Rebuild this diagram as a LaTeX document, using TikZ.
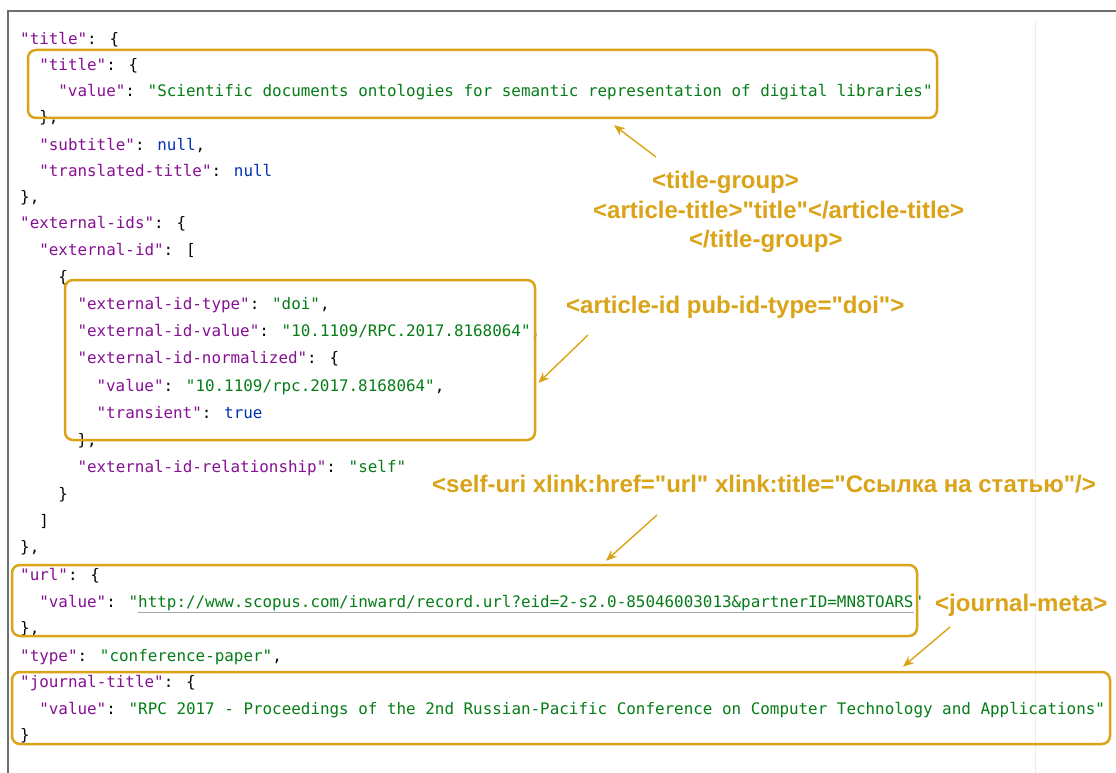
\documentclass[tikz,border=0pt]{standalone}
\usepackage{fontspec}
\usepackage{xcolor}
\usetikzlibrary{arrows.meta}
\newfontfamily\codefont{DejaVu Sans Mono}
\newfontfamily\notefont{Liberation Sans}
\definecolor{notegold}{RGB}{218,163,24}
\definecolor{jsonkey}{RGB}{135,16,148}
\definecolor{jsonstr}{RGB}{6,125,23}
\definecolor{jsonlit}{RGB}{0,51,179}
\definecolor{jsonpunct}{RGB}{8,8,8}
\definecolor{framegray}{RGB}{110,110,110}
\definecolor{guidegray}{RGB}{236,236,236}
\definecolor{linkline}{RGB}{165,165,165}
\newcommand{\jkey}[1]{\textcolor{jsonkey}{"#1"}}
\newcommand{\jstr}[1]{\textcolor{jsonstr}{"#1"}}
\newcommand{\jlit}[1]{\textcolor{jsonlit}{#1}}

\begin{document}
\begin{tikzpicture}[x=1pt,y=-1pt,
  code/.style={anchor=base west,inner sep=0pt,text=jsonpunct,
    font=\codefont\fontsize{15.9}{18}\selectfont},
  note/.style={anchor=base west,inner sep=0pt,text=notegold,
    font=\notefont\bfseries\fontsize{24}{28}\selectfont},
  hlbox/.style={draw=notegold,line width=2.5pt,rounded corners=8pt},
  callout/.style={draw=notegold,line width=1.4pt,-{Stealth[length=11pt,width=9pt]}}]
\fill[white] (0,0) rectangle (1116,773);
\useasboundingbox (0,0) rectangle (1116,773);
% editor frame
\draw[framegray,line width=2.2pt] (8,773) -- (8,11) -- (1116,11);
\draw[guidegray,line width=0.8pt] (1035,22) -- (1035,773);

% json lines
\node[code] (l1) at (20,45) {\jkey{title}: \{};
\node[code] (l2) at (39.1,71) {\jkey{title}: \{};
\node[code] (l3) at (58.2,97) {\jkey{value}: \jstr{Scientific documents ontologies for semantic representation of digital libraries}};
\node[code] (l4) at (39.1,123) {\},};
\node[code] (l5) at (39.1,150) {\jkey{subtitle}: \jlit{null},};
\node[code] (l6) at (39.1,176) {\jkey{translated-title}: \jlit{null}};
\node[code] (l7) at (20,202) {\},};
\node[code] (l8) at (20,228) {\jkey{external-ids}: \{};
\node[code] (l9) at (39.1,255) {\jkey{external-id}: [};
\node[code] (l10) at (58.2,282) {\{};
\node[code] (l11) at (77.3,309) {\jkey{external-id-type}: \jstr{doi},};
\node[code] (l12) at (77.3,336) {\jkey{external-id-value}: \jstr{10.1109/RPC.2017.8168064},};
\node[code] (l13) at (77.3,363) {\jkey{external-id-normalized}: \{};
\node[code] (l14) at (96.4,391) {\jkey{value}: \jstr{10.1109/rpc.2017.8168064},};
\node[code] (l15) at (96.4,418) {\jkey{transient}: \jlit{true}};
\node[code] (l16) at (77.3,445) {\},};
\node[code] (l17) at (77.3,472) {\jkey{external-id-relationship}: \jstr{self}};
\node[code] (l18) at (58.2,499) {\}};
\node[code] (l19) at (39.1,526) {]};
\node[code] (l20) at (20,552) {\},};
\node[code] (l21) at (20,580) {\jkey{url}: \{};
\node[code] (l22) at (39.1,607) {\jkey{value}: \textcolor{jsonstr}{"}{\color{linkline}\underline{\textcolor{jsonstr}{http://www.scopus.com/inward/record.url?eid=2-s2.0-85046003013\&partnerID=MN8TOARS}}}\textcolor{jsonstr}{"}};
\node[code] (l23) at (20,633) {\},};
\node[code] (l24) at (20,661) {\jkey{type}: \jstr{conference-paper},};
\node[code] (l25) at (20,687) {\jkey{journal-title}: \{};
\node[code] (l26) at (39.1,714) {\jkey{value}: \jstr{RPC 2017 - Proceedings of the 2nd Russian-Pacific Conference on Computer Technology and Applications}};
\node[code] (l27) at (20,740) {\}};

% highlighted blocks
\node[hlbox,minimum width=909pt,minimum height=68pt] (titlebox) at (482.5,84) {};
\node[hlbox,minimum width=470pt,minimum height=160pt] (doibox) at (300,360) {};
\node[hlbox,minimum width=905pt,minimum height=71pt] (urlbox) at (464.5,600.5) {};
\node[hlbox,minimum width=1098pt,minimum height=72pt] (journalbox) at (561,708) {};

% JATS notes
\node[note] (titlegrp) at (652,188) {<title-group>};
\node[note] (arttitle) at (593,218) {<article-title>"title"</article-title>};
\node[note] (titlegrpend) at (689,247) {</title-group>};
\node[note] (doinote) at (566,313) {<article-id pub-id-type="doi">};
\node[note] (selfnote) at (432,492) {<self-uri xlink:href="url" xlink:title="Ссылка на статью"/>};
\node[note] (journalnote) at (935,611) {<journal-meta>};

\coordinate (titletail) at (656,157);
\coordinate (doitail) at (588,335);
\coordinate (selftail) at (657,515);
\coordinate (journaltail) at (950,627);
\draw[callout] (titletail) -- ([xshift=131.5pt,yshift=-6pt]titlebox.south);
\draw[callout] (doitail) -- ([xshift=2pt,yshift=-23pt]doibox.east);
\draw[callout] (selftail) -- ([xshift=141.5pt,yshift=3pt]urlbox.north);
\draw[callout] (journaltail) -- ([xshift=342pt,yshift=4pt]journalbox.north);
\end{tikzpicture}
\end{document}
